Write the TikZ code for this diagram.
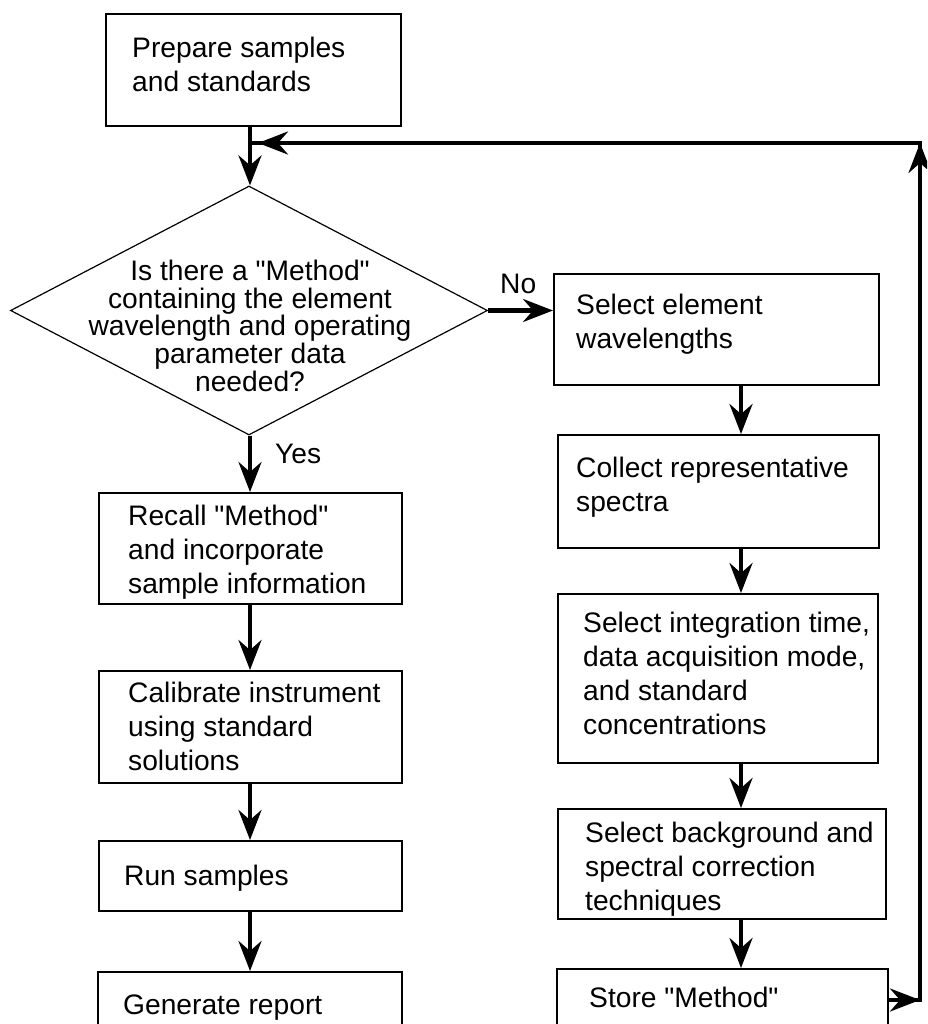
\documentclass[tikz,border=0pt]{standalone}
\usepackage{fontspec}
\setmainfont{Liberation Sans}[Ligatures=TeXOff]
\usetikzlibrary{arrows.meta,shapes.geometric}
\newcommand\mystrut{\rule{0pt}{22pt}}
\begin{document}
\begin{tikzpicture}[x=1pt,y=-1pt,
  box/.style={draw, line width=1.6pt, rectangle, inner sep=0pt, anchor=north west},
  txt/.style={anchor=north west, inner sep=0pt, align=left, font=\fontsize{28.2}{34}\selectfont},
  lbl/.style={anchor=base west, inner sep=0pt, font=\fontsize{28.2}{34}\selectfont},
  dtxt/.style={anchor=north, inner sep=0pt, align=center, font=\fontsize{28.2}{27.8}\selectfont},
  conn/.style={line width=4.2pt, -{Stealth[length=30pt,width=23pt,inset=10pt]}},
  plain/.style={line width=4.2pt, line join=miter}]
\clip (0,0) rectangle (927,1024);
\fill[white] (0,0) rectangle (927,1024);

% boxes
\node[box, minimum width=295pt, minimum height=112pt] (prep) at (105,13) {};
\node[draw, diamond, line width=1.2pt, minimum width=477pt, minimum height=249pt, inner sep=0pt] (dec) at (249,310.5) {};
\node[box, minimum width=325pt, minimum height=111pt] (b1) at (553,273) {};
\node[box, minimum width=321pt, minimum height=113pt] (b2) at (557,434) {};
\node[box, minimum width=320pt, minimum height=169pt] (b3) at (557,593) {};
\node[box, minimum width=328pt, minimum height=110pt] (b4) at (557,808) {};
\node[box, minimum width=331pt, minimum height=80pt] (b5) at (556,968) {};
\node[box, minimum width=303pt, minimum height=111pt] (l1) at (98,492) {};
\node[box, minimum width=303pt, minimum height=112pt] (l2) at (98,670) {};
\node[box, minimum width=303pt, minimum height=70pt] (l3) at (98,840) {};
\node[box, minimum width=304pt, minimum height=80pt] (l4) at (97,971) {};

% texts
\node[txt] (tprep) at (132,35) {\mystrut Prepare samples\\and standards};
\node[dtxt] (tdec) at (250,258) {\mystrut Is there a "Method"\\containing the element\\wavelength and operating\\parameter data\\needed?};
\node[txt] (tb1) at (576,292) {\mystrut Select element\\wavelengths};
\node[txt] (tb2) at (576,455) {\mystrut Collect representative\\spectra};
\node[txt] (tb3) at (583,610) {\mystrut Select integration time,\\data acquisition mode,\\and standard\\concentrations};
\node[txt] (tb4) at (585,820) {\mystrut Select background and\\spectral correction\\techniques};
\node[txt] (tb5) at (589,985) {\mystrut Store "Method"};
\node[txt] (tl1) at (128,503) {\mystrut Recall "Method"\\and incorporate\\sample information};
\node[txt] (tl2) at (128,680) {\mystrut Calibrate instrument\\using standard\\solutions};
\node[txt] (tl3) at (124,863) {\mystrut Run samples};
\node[txt] (tl4) at (123,992) {\mystrut Generate report};
\node[lbl] (no) at (500,293) {No};
\node[lbl] (yes) at (275,463) {Yes};

% helper coordinates
\coordinate (lx) at (250,0);
\coordinate (rx) at (741,0);
\coordinate (c1) at (920,1000);
\coordinate (c2) at (920,143);
\coordinate (jn) at (250,143);
\coordinate (jt) at (258,143);

% connectors
\draw[conn] (prep.south -| lx) -- (dec.north -| lx);
\draw[conn] (dec.east) -- (b1.west |- dec.east);
\draw[conn] (dec.south -| lx) -- (l1.north -| lx);
\draw[conn] (l1.south -| lx) -- (l2.north -| lx);
\draw[conn] (l2.south -| lx) -- (l3.north -| lx);
\draw[conn] (l3.south -| lx) -- (l4.north -| lx);
\draw[conn] (b1.south -| rx) -- (b2.north -| rx);
\draw[conn] (b2.south -| rx) -- (b3.north -| rx);
\draw[conn] (b3.south -| rx) -- (b4.north -| rx);
\draw[conn] (b4.south -| rx) -- (b5.north -| rx);
\draw[plain] (b5.east |- c1) -- (c1) -- (c2) -- (jn);
\draw[conn] (b5.east |- c1) -- (c1);
\draw[conn] (c1) -- (c2);
\draw[conn] (c2) -- (jt);
\end{tikzpicture}
\end{document}
